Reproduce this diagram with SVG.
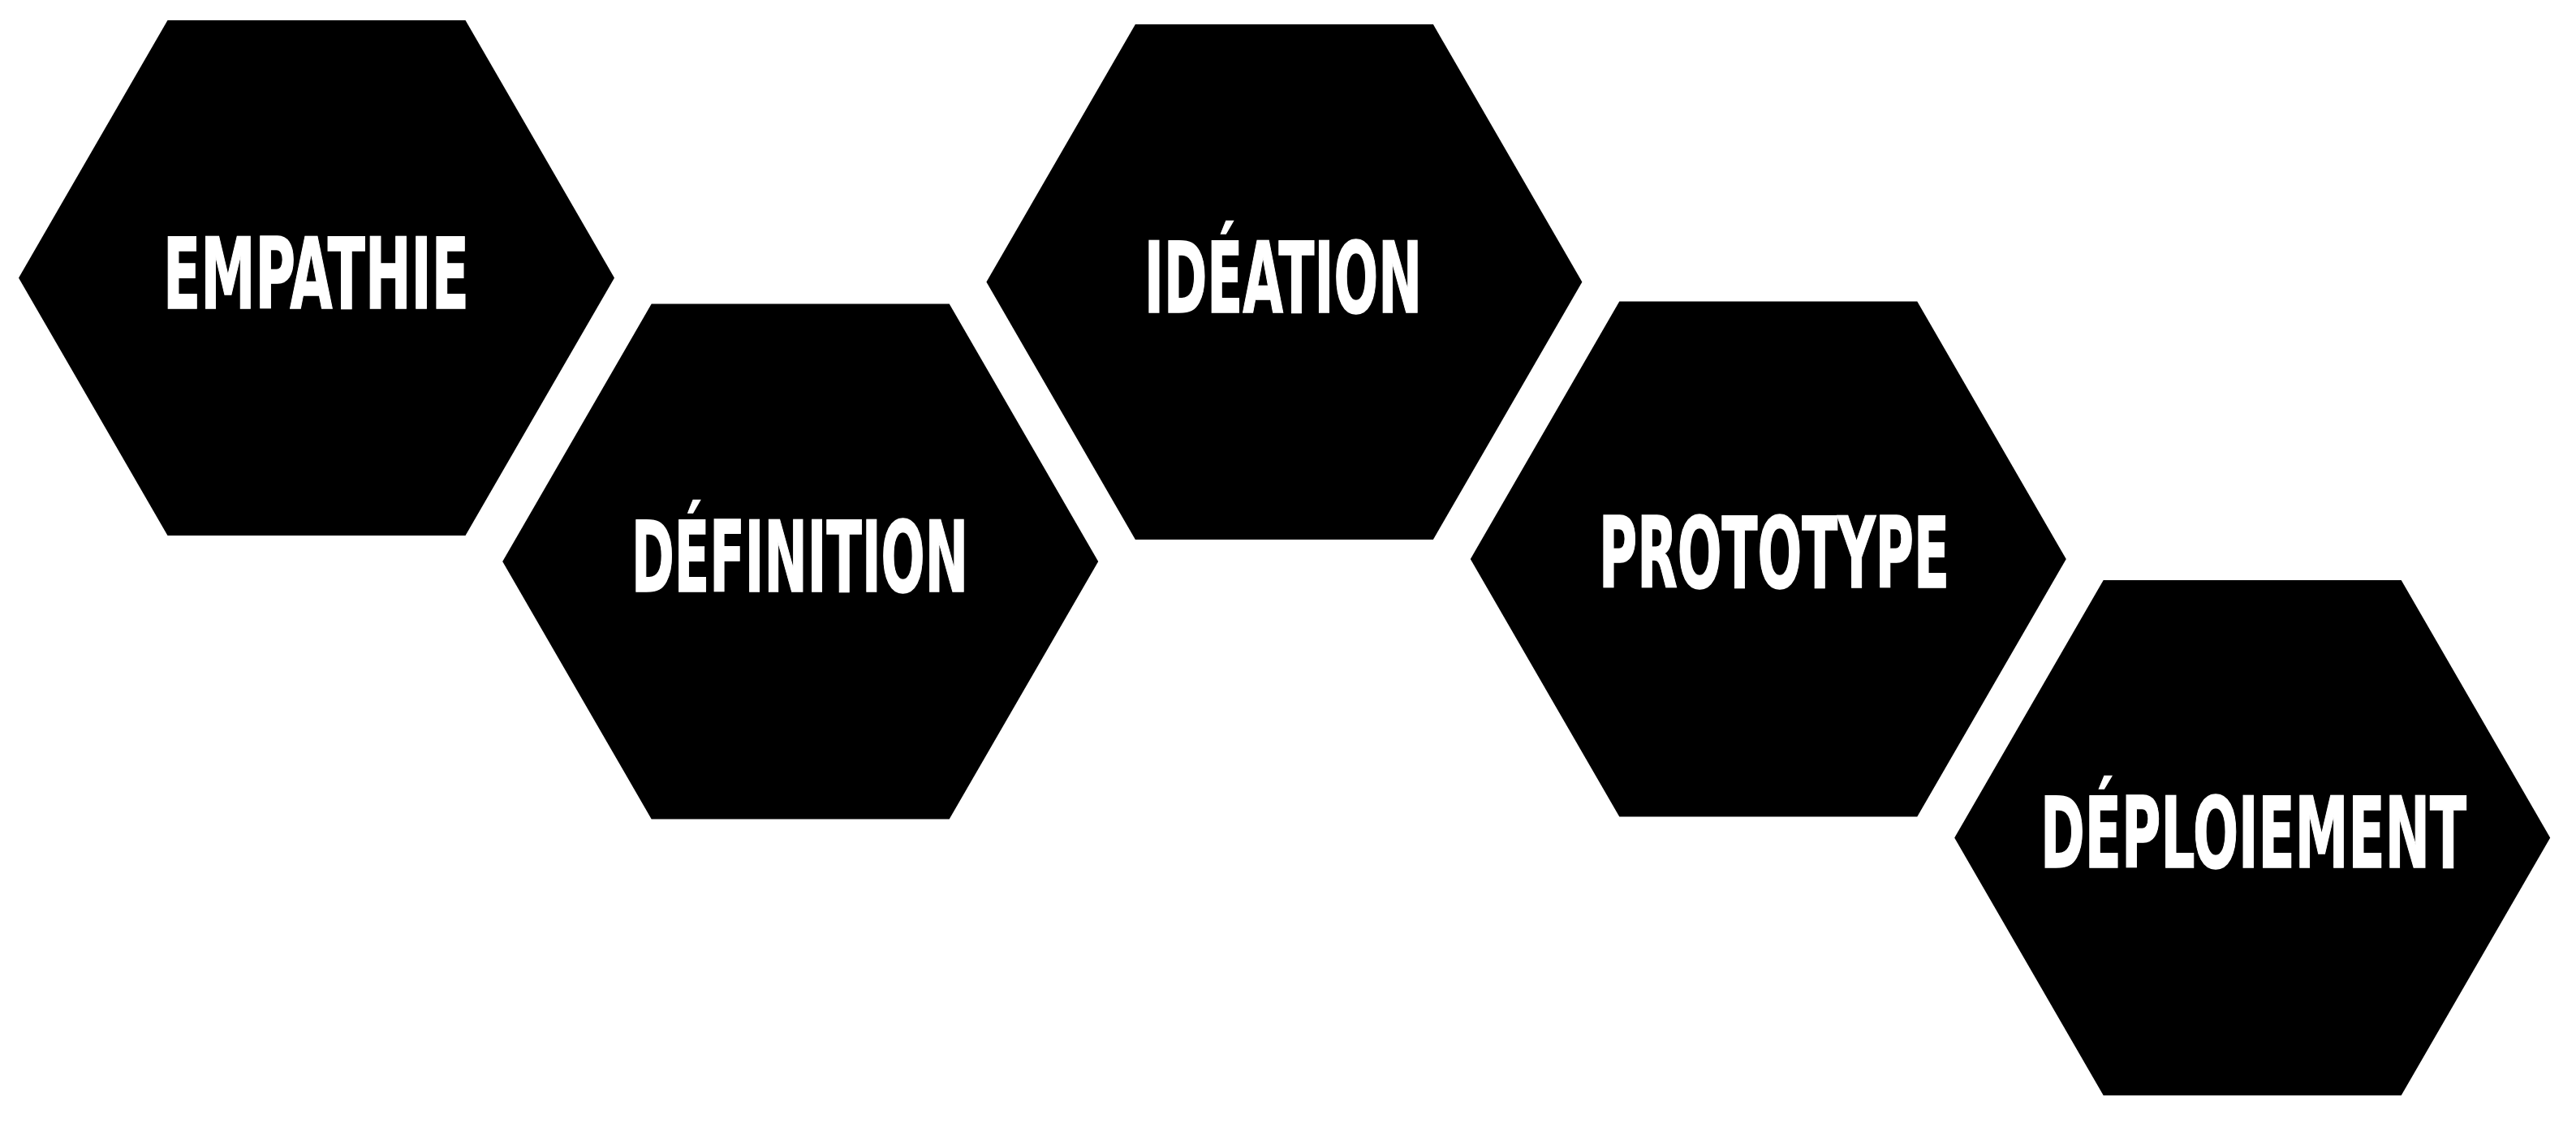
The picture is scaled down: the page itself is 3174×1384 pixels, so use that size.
<svg xmlns="http://www.w3.org/2000/svg" xmlns:xlink="http://www.w3.org/1999/xlink" width="3174" height="1384" viewBox="0 0 3174 1384">
  <style>
    .hex { fill: #000000; }
    .label { fill: #ffffff; stroke: #ffffff; stroke-width: 1.5px; font-family: "DejaVu Sans Condensed", "DejaVu Sans", "Liberation Sans", sans-serif; font-weight: bold; font-stretch: condensed; font-size: 122px; }
  </style>
  <defs>
    <polygon id="hexagon" points="-183.5,-317.5 183.5,-317.5 367,0 183.5,317.5 -183.5,317.5 -367,0"/>
  </defs>
  <rect x="0" y="0" width="3174" height="1384" fill="#ffffff"/>
  <g id="connectors"></g>
  <g id="node-empathie">
    <use xlink:href="#hexagon" href="#hexagon" class="hex" x="390" y="342.4"/>
    <text class="label" x="201" y="380" textLength="377" lengthAdjust="spacingAndGlyphs">EMPATHIE</text>
  </g>
  <g id="node-definition">
    <use xlink:href="#hexagon" href="#hexagon" class="hex" x="986.2" y="692"/>
    <text class="label" x="778" y="729" textLength="415" lengthAdjust="spacingAndGlyphs">DÉFINITION</text>
  </g>
  <g id="node-ideation">
    <use xlink:href="#hexagon" href="#hexagon" class="hex" x="1582.4" y="347.5"/>
    <text class="label" x="1410" y="385" textLength="342" lengthAdjust="spacingAndGlyphs">IDÉATION</text>
  </g>
  <g id="node-prototype">
    <use xlink:href="#hexagon" href="#hexagon" class="hex" x="2178.8" y="689"/>
    <text class="label" x="1970" y="724" textLength="432" lengthAdjust="spacingAndGlyphs">PROTOTYPE</text>
  </g>
  <g id="node-deploiement">
    <use xlink:href="#hexagon" href="#hexagon" class="hex" x="2775.2" y="1032.5"/>
    <text class="label" x="2514" y="1069" textLength="525" lengthAdjust="spacingAndGlyphs">DÉPLOIEMENT</text>
  </g>
</svg>
